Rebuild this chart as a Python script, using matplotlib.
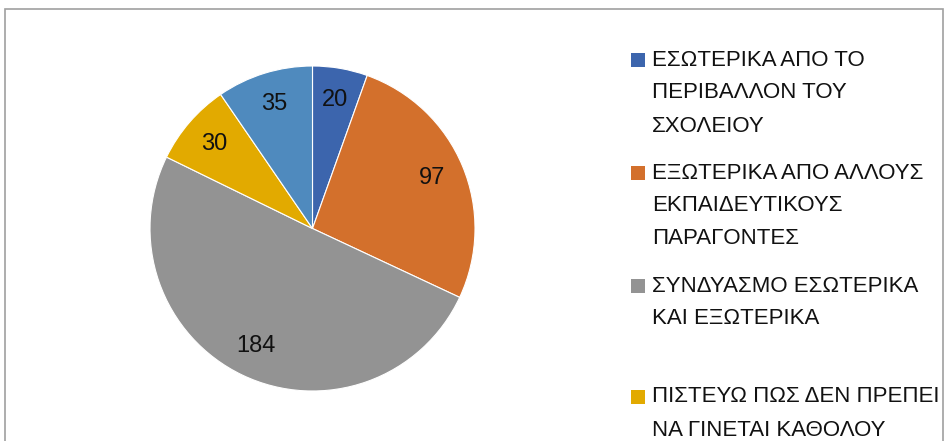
"""Pie chart: πηγές (εσωτερικά / εξωτερικά) με υπόμνημα δεξιά."""
import matplotlib.pyplot as plt
from matplotlib.patches import Rectangle

plt.rcParams["font.family"] = ["Liberation Sans", "DejaVu Sans"]

categories = [
    "ΕΣΩΤΕΡΙΚΑ ΑΠΟ ΤΟ\nΠΕΡΙΒΑΛΛΟΝ ΤΟΥ\nΣΧΟΛΕΙΟΥ",
    "ΕΞΩΤΕΡΙΚΑ ΑΠΟ ΑΛΛΟΥΣ\nΕΚΠΑΙΔΕΥΤΙΚΟΥΣ\nΠΑΡΑΓΟΝΤΕΣ",
    "ΣΥΝΔΥΑΣΜΟ ΕΣΩΤΕΡΙΚΑ\nΚΑΙ ΕΞΩΤΕΡΙΚΑ",
    "ΠΙΣΤΕΥΩ ΠΩΣ ΔΕΝ ΠΡΕΠΕΙ\nΝΑ ΓΙΝΕΤΑΙ ΚΑΘΟΛΟΥ",
    "ΔΕΝ ΓΝΩΡΙΖΩ",
]
values = [20, 97, 184, 30, 35]
colors = ["#3C65AD", "#D3702C", "#939393", "#E2AA00", "#4F8ABE"]

W, H = 946, 441
fig = plt.figure(figsize=(W / 100, H / 100), dpi=100)

# chart border (cut off at the bottom like the screenshot)
fig.patches.append(Rectangle((5 / W, -0.1), 938 / W, 1.1 - 9 / H,
                             transform=fig.transFigure, fill=False,
                             edgecolor="#A0A0A0", linewidth=1.2))

cx, cy, r = 312.5, 228.5, 162.5
ax = fig.add_axes([(cx - r) / W, (H - cy - r) / H, 2 * r / W, 2 * r / H])
total = sum(values)
wedges, _, autotexts = ax.pie(
    values, colors=colors, startangle=90, counterclock=False,
    autopct=lambda p: f"{p * total / 100:.0f}", pctdistance=0.8,
    wedgeprops=dict(edgecolor="white", linewidth=0.8),
    textprops=dict(fontsize=17, color="#111111"),
)
ax.set_xlim(-1, 1)
ax.set_ylim(-1, 1)

# legend drawn by hand to keep the uneven spacing of the original
entry_top = [60, 173, 286, 397, 500]
line_h = 33
for label, col, y0 in zip(categories, colors, entry_top):
    fig.patches.append(Rectangle((631 / W, 1 - (y0 + 7) / H), 14 / W, 14 / H,
                                 transform=fig.transFigure, facecolor=col,
                                 edgecolor="none"))
    for i, line in enumerate(label.split("\n")):
        fig.text(652 / W, 1 - (y0 + i * line_h) / H, line, fontsize=16,
                 va="center", ha="left", color="#111111")

fig.savefig("out.png", dpi=100)
